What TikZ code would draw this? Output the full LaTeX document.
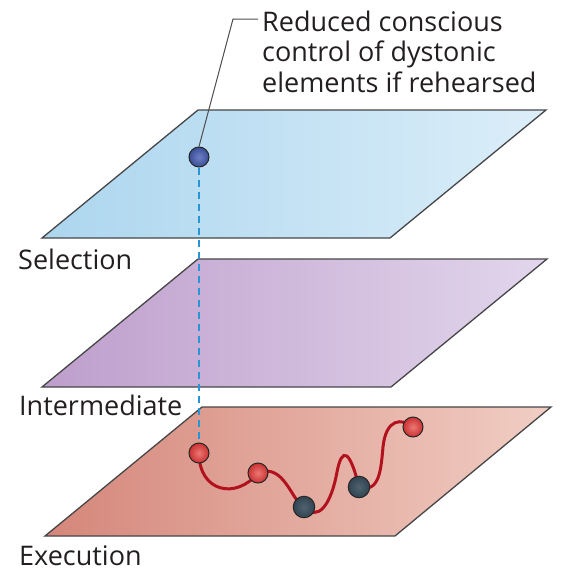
\documentclass[tikz,border=0pt]{standalone}
\usepackage{fontspec}
\setmainfont{Open Sans}
\usetikzlibrary{calc}
\pgfdeclarelayer{bg}
\pgfsetlayers{bg,main}
\definecolor{selL}{RGB}{172,214,238}
\definecolor{selR}{RGB}{220,238,249}
\definecolor{intL}{RGB}{190,158,204}
\definecolor{intR}{RGB}{226,214,236}
\definecolor{exeL}{RGB}{213,134,122}
\definecolor{exeR}{RGB}{241,206,196}
\definecolor{curvecol}{RGB}{178,18,30}
\definecolor{dashcol}{RGB}{38,150,216}
\definecolor{blueb}{RGB}{58,78,150}
\definecolor{bluebin}{RGB}{110,128,196}
\definecolor{redb}{RGB}{200,50,50}
\definecolor{redbin}{RGB}{236,120,115}
\definecolor{darkb}{RGB}{50,68,82}
\definecolor{darkbin}{RGB}{78,98,112}
\definecolor{edge}{RGB}{70,70,72}
\definecolor{txt}{RGB}{35,31,32}
\tikzset{
  plane/.style={draw=edge, line width=1.3pt, line join=miter},
  ballnode/.style={circle, minimum size=20pt, inner sep=0pt, draw=black!85, line width=1pt, shading=radial},
  redball/.style={ballnode, inner color=redbin, outer color=redb},
  darkball/.style={ballnode, inner color=darkbin, outer color=darkb, minimum size=21.5pt},
  blueball/.style={ballnode, inner color=bluebin, outer color=blueb},
  lbl/.style={anchor=base west, inner sep=0pt, text=txt, font=\fontsize{27}{30}\selectfont},
  curvepath/.style={draw=curvecol, line width=3pt, line cap=round},
  dashline/.style={draw=dashcol, line width=2pt, dash pattern=on 7pt off 5pt},
  leader/.style={draw=txt!80, line width=1pt}
}
\begin{document}
\begin{tikzpicture}[x=1pt,y=-1pt]
\useasboundingbox (0,0) rectangle (563,573);
% balls (main layer)
\node[blueball] (bs) at (199,157) {};
\node[redball] (e1) at (199,453) {};
\node[redball] (e2) at (258,473) {};
\node[darkball] (e3) at (304,507) {};
\node[darkball] (e4) at (359,487) {};
\node[redball] (e5) at (413,427) {};
\begin{pgfonlayer}{bg}
  \path[plane, left color=selL, right color=selR] (198,110) -- (546,110) -- (390,238) -- (42,238) -- cycle;
  \path[plane, left color=intL, right color=intR] (198,259) -- (547,259) -- (391,387) -- (42,387) -- cycle;
  \path[plane, left color=exeL, right color=exeR] (202,407) -- (551,407) -- (395,536) -- (45,536) -- cycle;
  \draw[dashline] (bs.south) -- (e1.north);
  \draw[curvepath] (e1.center) .. controls (199,492) and (236,500) .. (e2.center)
    .. controls (284,462) and (292,502) .. (e3.center)
    .. controls (318,522) and (331,505) .. (337,472)
    .. controls (342,446) and (350,450) .. (e4.center)
    .. controls (380,494) and (381,468) .. (383,447)
    .. controls (386,418) and (402,418) .. (e5.center);
\end{pgfonlayer}
% annotation
\node[lbl, align=left, anchor=base west, font=\fontsize{27}{30.5}\selectfont] (ann) at (262,92) {Reduced conscious\\control of dystonic\\elements if rehearsed};
\coordinate (bend) at (233,19);
\coordinate (lstart) at (258,19);
\draw[leader] (lstart) -- (bend) -- (bs.north);
% labels
\node[lbl] (ls) at (18,269) {Selection};
\node[lbl] (li) at (19,415) {Intermediate};
\node[lbl] (le) at (19,565) {Execution};
\end{tikzpicture}
\end{document}
